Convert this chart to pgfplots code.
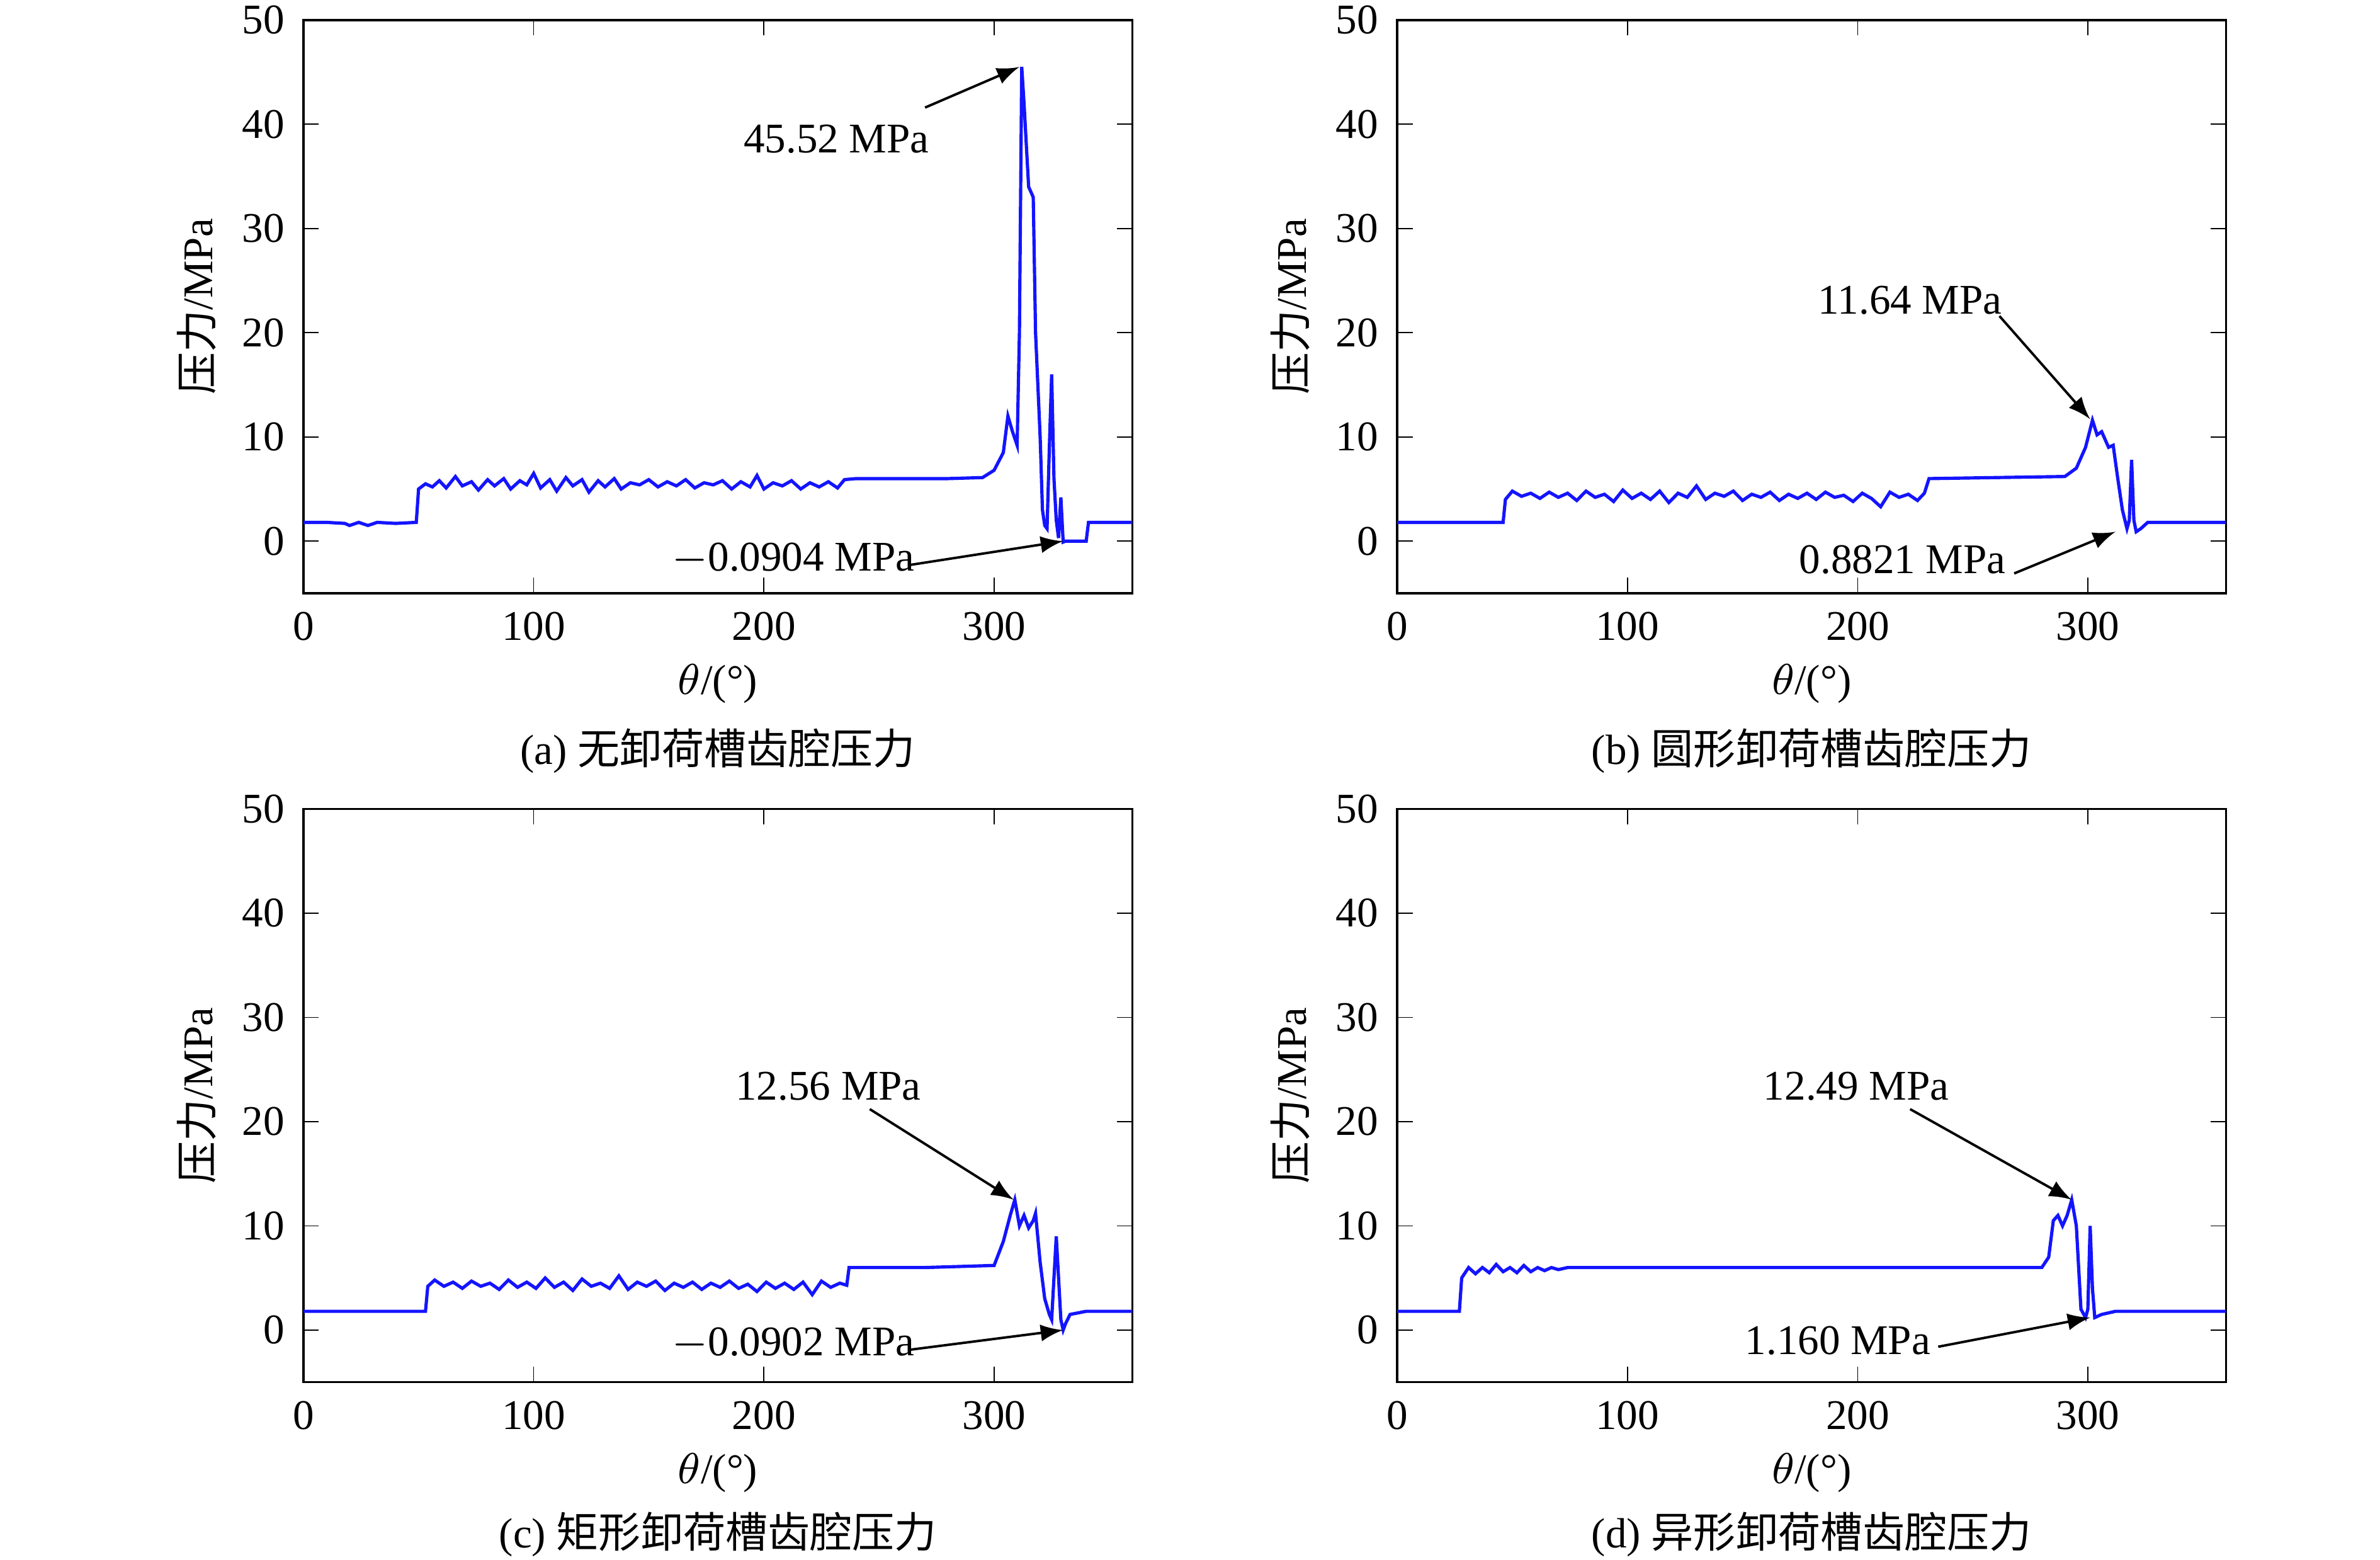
\documentclass[border=0pt]{standalone}
\usepackage{pgfplots}
\pgfplotsset{compat=1.18}
\usepackage{fontspec}
\setmainfont{Liberation Serif}
\newfontfamily\cjk{Noto Sans CJK SC}
\pgfplotsset{
  panel/.style={scale only axis, width=5.38cm, height=3.72cm, xmin=0, xmax=360, ymin=-5, ymax=50,
    xtick={0,100,200,300}, ytick={0,10,...,50}, tick align=inside, clip=false,
    tick style={black}, major tick length=0.1cm,
    tick label style={font=\fontsize{7.8}{9}\selectfont}, label style={font=\fontsize{7.8}{9}\selectfont},
    /pgf/number format/assume math mode=true,
    xlabel={$\theta$/(\textdegree)}, ylabel={{\cjk 压力}/MPa},
    xlabel style={yshift=2.5pt}, ylabel style={yshift=-2pt},
    anchor=south west}
}
\tikzset{
  dat/.style={color={rgb,255:red,20;green,20;blue,255}, line width=0.6pt},
  ann/.style={-latex, line width=0.45pt},
  lab/.style={font=\fontsize{7.8}{9}\selectfont},
  captxt/.style={font=\fontsize{7.8}{9}\selectfont}
}
\begin{document}
\begin{tikzpicture}
\useasboundingbox (0,0) rectangle (15.45,10.12);
% (a)
\begin{axis}[panel, at={(1.97cm,6.27cm)}]
\addplot[dat] coordinates {(0,1.8)(10,1.8)(18,1.7)(20,1.5)(24,1.8)(28,1.5)(32,1.8)(40,1.7)(49,1.8)(50,5.0)(53,5.5)(56,5.2)(59,5.8)(62,5.1)(66,6.2)(69,5.3)(73,5.7)(76,4.9)(80,5.9)(83,5.3)(87,6.0)(90,5.0)(94,5.8)(97,5.4)(100,6.5)(103,5.1)(107,5.9)(110,4.8)(114,6.1)(117,5.3)(121,5.9)(124,4.7)(128,5.8)(131,5.2)(135,6.0)(138,5.0)(142,5.6)(146,5.4)(150,5.9)(154,5.2)(158,5.7)(162,5.3)(166,5.9)(170,5.1)(174,5.6)(178,5.4)(182,5.8)(186,5.0)(190,5.7)(194,5.2)(197,6.3)(200,5.0)(204,5.6)(208,5.3)(212,5.8)(216,5.0)(220,5.6)(224,5.2)(228,5.7)(232,5.1)(235,5.9)(240,6.0)(280,6.0)(295,6.1)(300,6.8)(304,8.5)(306,12.0)(308,10.5)(310,9.2)(311,20)(312,45.5)(313,42)(315,34)(317,33)(318,20)(320,10)(321,3)(322,1.5)(323,1.2)(324,9)(325,16)(326,6)(327,2)(328,0.3)(329,4.2)(330,-0.09)(331,0)(340,0)(341,1.8)(360,1.8)};
\draw[ann] (axis cs:270,41.6) -- (axis cs:311,45.5);
\node[lab] at (axis cs:231.5,38.6) {45.52 MPa};
\draw[ann] (axis cs:263,-2.3) -- (axis cs:330,0);
\node[lab] at (axis cs:212.8,-1.75) {$-$0.0904 MPa};
\node[captxt] at (rel axis cs:0.5,-0.275) {(a) {\cjk 无卸荷槽齿腔压力}};
\end{axis}
% (b)
\begin{axis}[panel, at={(9.07cm,6.27cm)}]
\addplot[dat] coordinates {(0,1.8)(46,1.8)(47,4.0)(50,4.8)(54,4.3)(58,4.6)(62,4.1)(66,4.7)(70,4.2)(74,4.6)(78,3.9)(82,4.8)(86,4.2)(90,4.5)(94,3.8)(98,4.9)(102,4.1)(106,4.6)(110,4.0)(114,4.8)(118,3.7)(122,4.6)(126,4.2)(130,5.3)(134,4.0)(138,4.6)(142,4.3)(146,4.8)(150,3.9)(154,4.5)(158,4.2)(162,4.7)(166,3.9)(170,4.5)(174,4.1)(178,4.6)(182,4.0)(186,4.7)(190,4.2)(194,4.4)(198,3.8)(202,4.6)(206,4.1)(210,3.3)(214,4.7)(218,4.2)(222,4.5)(226,3.9)(229,4.6)(231,6.0)(260,6.1)(290,6.2)(295,7.0)(299,9.0)(302,11.6)(304,10.2)(306,10.5)(309,9.0)(311,9.2)(313,6.0)(315,3.0)(317,1.2)(318,2)(319,7.8)(320,2.0)(321,0.9)(323,1.2)(326,1.8)(360,1.8)};
\draw[ann] (axis cs:261.6,21.6) -- (axis cs:301,11.7);
\node[lab] at (axis cs:222.8,23.1) {11.64 MPa};
\draw[ann] (axis cs:268,-3.1) -- (axis cs:312,0.9);
\node[lab] at (axis cs:219.5,-1.75) {0.8821 MPa};
\node[captxt] at (rel axis cs:0.5,-0.275) {(b) {\cjk 圆形卸荷槽齿腔压力}};
\end{axis}
% (c)
\begin{axis}[panel, at={(1.97cm,1.15cm)}]
\addplot[dat] coordinates {(0,1.8)(53,1.8)(54,4.2)(57,4.8)(61,4.2)(65,4.6)(69,4.0)(73,4.7)(77,4.2)(81,4.5)(85,3.9)(89,4.8)(93,4.1)(97,4.6)(101,4.0)(105,5.0)(109,4.1)(113,4.6)(117,3.8)(121,4.9)(125,4.2)(129,4.5)(133,4.0)(137,5.2)(141,3.9)(145,4.6)(149,4.2)(153,4.7)(157,3.8)(161,4.5)(165,4.1)(169,4.6)(173,3.9)(177,4.5)(181,4.1)(185,4.7)(189,4.0)(193,4.4)(197,3.7)(201,4.6)(205,4.0)(209,4.5)(213,3.9)(217,4.6)(221,3.4)(225,4.7)(229,4.1)(233,4.5)(236,4.3)(237,6.0)(270,6.0)(300,6.2)(304,8.5)(307,11.0)(309,12.5)(311,10.0)(313,11.0)(315,9.8)(317,10.5)(318,11.2)(320,6.5)(322,3.0)(324,1.5)(325,1.0)(327,9.0)(328,5)(329,1)(330,0)(331,0.6)(333,1.5)(340,1.8)(360,1.8)};
\draw[ann] (axis cs:246,21.2) -- (axis cs:308.5,12.5);
\node[lab] at (axis cs:228,23.4) {12.56 MPa};
\draw[ann] (axis cs:263,-1.9) -- (axis cs:330,0);
\node[lab] at (axis cs:212.8,-1.3) {$-$0.0902 MPa};
\node[captxt] at (rel axis cs:0.5,-0.265) {(c) {\cjk 矩形卸荷槽齿腔压力}};
\end{axis}
% (d)
\begin{axis}[panel, at={(9.07cm,1.15cm)}]
\addplot[dat] coordinates {(0,1.8)(27,1.8)(28,5.0)(31,6.0)(34,5.4)(37,6.0)(40,5.5)(43,6.3)(46,5.6)(49,6.0)(52,5.5)(55,6.2)(58,5.6)(61,6.0)(64,5.7)(67,6.0)(70,5.8)(74,6.0)(150,6.0)(280,6.0)(283,7.0)(285,10.5)(287,11.0)(289,10.0)(291,11.0)(293,12.5)(295,10.0)(297,2.0)(299,1.2)(300,2)(301,10.0)(302,4)(303,1.2)(306,1.5)(312,1.8)(360,1.8)};
\draw[ann] (axis cs:222.8,21.2) -- (axis cs:293,12.5);
\node[lab] at (axis cs:199.4,23.4) {12.49 MPa};
\draw[ann] (axis cs:235,-1.6) -- (axis cs:301,1.2);
\node[lab] at (axis cs:191.4,-1.0) {1.160 MPa};
\node[captxt] at (rel axis cs:0.5,-0.265) {(d) {\cjk 异形卸荷槽齿腔压力}};
\end{axis}
\end{tikzpicture}
\end{document}
